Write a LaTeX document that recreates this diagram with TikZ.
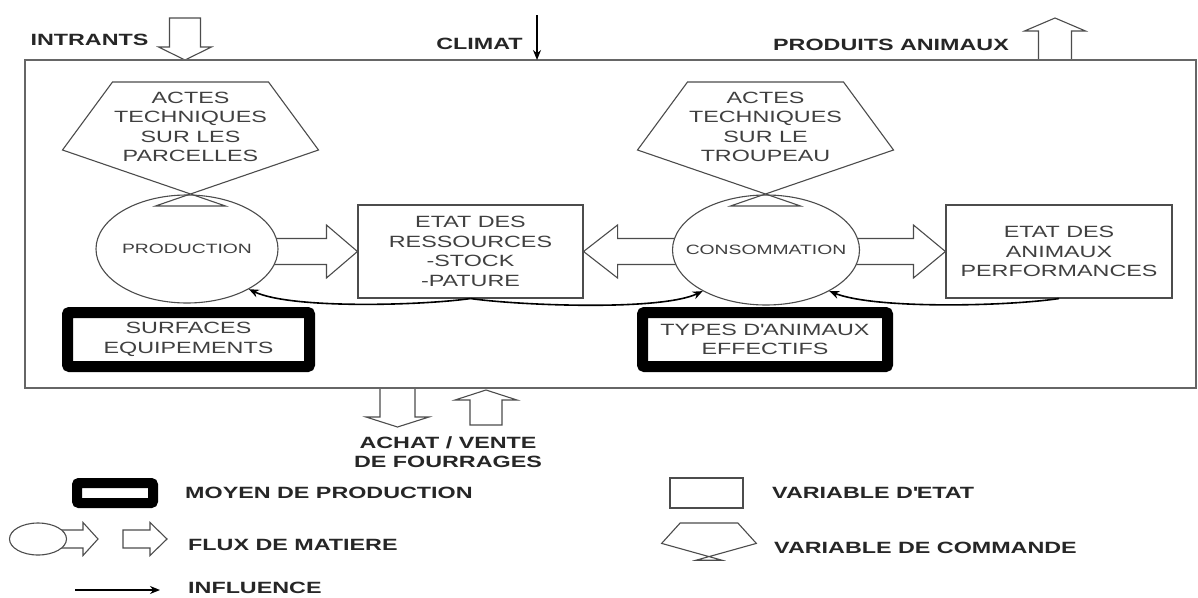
\documentclass[tikz,border=0pt]{standalone}
\usepackage{fontspec}
\setmainfont{Liberation Sans}[FakeStretch=1.43]
\usetikzlibrary{shapes.geometric,arrows.meta,calc}
\pgfdeclarelayer{background}
\pgfsetlayers{background,main}
\newcommand\lblfont{\fontsize{16.3}{19.5}\selectfont}
\newcommand\smlfont{\fontsize{13.5}{16}\selectfont}
\newcommand\bldfont{\fontsize{16.3}{19.5}\selectfont\bfseries}
\newcommand\flowarrow[5]{%
  \coordinate (fa-h) at ($(#2)!#5!(#1)$);
  \draw[flow] ($(#1)!#3!90:(#2)$) -- ($(fa-h)!#3!90:(#2)$) -- ($(fa-h)!#4!90:(#2)$) -- (#2)
    -- ($(fa-h)!#4!-90:(#2)$) -- ($(fa-h)!#3!-90:(#2)$) -- ($(#1)!#3!-90:(#2)$) -- cycle;}
\tikzset{
  thinline/.style={draw=black!70, line width=1.1pt},
  frameline/.style={draw=black!60, line width=1.6pt},
  statebox/.style={draw=black!70, line width=1.1pt, fill=white, inner sep=0pt},
  procnode/.style={ellipse, draw=black!70, line width=1.1pt, fill=white, inner sep=0pt},
  meansbox/.style={draw=black, line width=11pt, rounded corners=2pt, inner sep=0pt, font=\lblfont, text=black!75, align=center},
  flow/.style={draw=black!70, line width=1.1pt, fill=white, line join=miter},
  infl/.style={draw=black, line width=1.6pt, -{Stealth[length=10pt,width=8pt]}},
  lbl/.style={font=\lblfont, text=black!75, align=center, inner sep=0pt},
  smllbl/.style={font=\smlfont, text=black!75, inner sep=0pt},
  bldlbl/.style={font=\bldfont, text=black!85, inner sep=0pt, align=center},
  cmdshape/.pic={\draw[thinline] (-78,0) -- (78,0) -- (128,-68) -- (-35,-124) -- (35,-124) -- (-128,-68) -- cycle;}
}
\begin{document}
\begin{tikzpicture}[x=1pt,y=1pt]
\useasboundingbox (0,0) rectangle (1198,-597);
\begin{pgfonlayer}{background}
  \fill[white] (0,0) rectangle (1198,-597);
\end{pgfonlayer}

% system frame
\draw[frameline] (25,-60) rectangle (1196,-388);

% state variables
\node[statebox, minimum width=225pt, minimum height=93pt, lbl] (res) at (470.5,-251.5) {ETAT DES\\RESSOURCES\\-STOCK\\-PATURE};
\node[statebox, minimum width=226pt, minimum height=93pt, lbl] (anim) at (1059,-251.5) {ETAT DES\\ANIMAUX\\PERFORMANCES};

% processes
\node[procnode, minimum width=182pt, minimum height=108pt] (prod) at (187,-249) {};
\node[smllbl] (prodl) at (prod.center) {PRODUCTION};
\node[procnode, minimum width=187pt, minimum height=110pt] (cons) at (766,-250) {};
\node[smllbl] (consl) at (cons.center) {CONSOMMATION};

% command variables
\pic at (190.5,-82) {cmdshape};
\node[lbl] (cmdA) at (190.5,-127) {ACTES\\TECHNIQUES\\SUR LES\\PARCELLES};
\pic at (765.5,-82) {cmdshape};
\node[lbl] (cmdB) at (765.5,-127) {ACTES\\TECHNIQUES\\SUR LE\\TROUPEAU};

% means of production
\node[meansbox, minimum width=242pt, minimum height=54pt] (surf) at (188.5,-339.5) {SURFACES\\EQUIPEMENTS};
\node[meansbox, minimum width=245pt, minimum height=54pt] (types) at (765,-339.5) {TYPES D\textquotesingle ANIMAUX\\EFFECTIFS};

% outside labels
\node[bldlbl] (intr) at (89.5,-40) {INTRANTS};
\node[bldlbl] (clim) at (479.5,-44) {CLIMAT};
\node[bldlbl] (prodan) at (891,-45) {PRODUITS ANIMAUX};
\node[bldlbl] (achat) at (448,-452) {ACHAT / VENTE\\DE FOURRAGES};

% coordinates for free arrows
\coordinate (intrT) at (185,-18);  \coordinate (intrH) at (185,-60);
\coordinate (panT) at (1055,-60);  \coordinate (panH) at (1055,-18);
\coordinate (achT) at (397.5,-388); \coordinate (achH) at (397.5,-427);
\coordinate (venT) at (486,-425);  \coordinate (venH) at (486,-390);
\coordinate (climA) at (537,-15);  \coordinate (climB) at (537,-60);
\coordinate (f1) at (prod.center |- res.west);
\coordinate (f2) at (cons.center |- res.east);
\coordinate (f3) at (cons.center |- anim.west);

% legend
\node[meansbox, line width=10pt, minimum width=76pt, minimum height=20pt] (legM) at (115,-493) {};
\node[bldlbl, anchor=west] (legMt) at (185,-493) {MOYEN DE PRODUCTION};
\node[procnode, minimum width=57pt, minimum height=32pt] (legE) at (38,-539) {};
\coordinate (legEH) at (98,-539);
\coordinate (legFT) at (123,-539); \coordinate (legFH) at (167,-539);
\node[bldlbl, anchor=west] (legFt) at (188,-545) {FLUX DE MATIERE};
\coordinate (legI1) at (75,-590); \coordinate (legI2) at (160,-590);
\node[bldlbl, anchor=west] (legIt) at (188,-588) {INFLUENCE};
\node[statebox, minimum width=73pt, minimum height=30pt] (legS) at (706.5,-493) {};
\node[bldlbl, anchor=west] (legSt) at (772,-493) {VARIABLE D\textquotesingle ETAT};
\pic[xscale=0.37, yscale=0.3] at (709,-523) {cmdshape};
\node[bldlbl, anchor=west] (legCt) at (774,-548) {VARIABLE DE COMMANDE};

% material flows (under the nodes)
\begin{pgfonlayer}{background}
  \flowarrow{f1}{res.west}{13pt}{26.5pt}{31pt}
  \flowarrow{f2}{res.east}{13pt}{26.5pt}{34pt}
  \flowarrow{f3}{anim.west}{13pt}{26.5pt}{32pt}
  \flowarrow{intrT}{intrH}{15.5pt}{26.5pt}{13pt}
  \flowarrow{panT}{panH}{16.5pt}{30.5pt}{13pt}
  \flowarrow{achT}{achH}{17.5pt}{31.5pt}{10pt}
  \flowarrow{venT}{venH}{16pt}{31pt}{10pt}
  \flowarrow{legE.center}{legEH}{9pt}{16.5pt}{15pt}
  \flowarrow{legFT}{legFH}{9pt}{16.5pt}{17pt}
\end{pgfonlayer}

% influences
\draw[infl] (climA) -- (climB);
\draw[infl] (res.south) .. controls +(-50,-7) and +(42,-20) .. (prod.-33);
\draw[infl] (res.south) .. controls +(50,-7) and +(-42,-20) .. (cons.-147);
\draw[infl] (anim.south) .. controls +(-55,-8) and +(45,-18) .. (cons.-33);
\draw[infl] (legI1) -- (legI2);
\end{tikzpicture}
\end{document}
